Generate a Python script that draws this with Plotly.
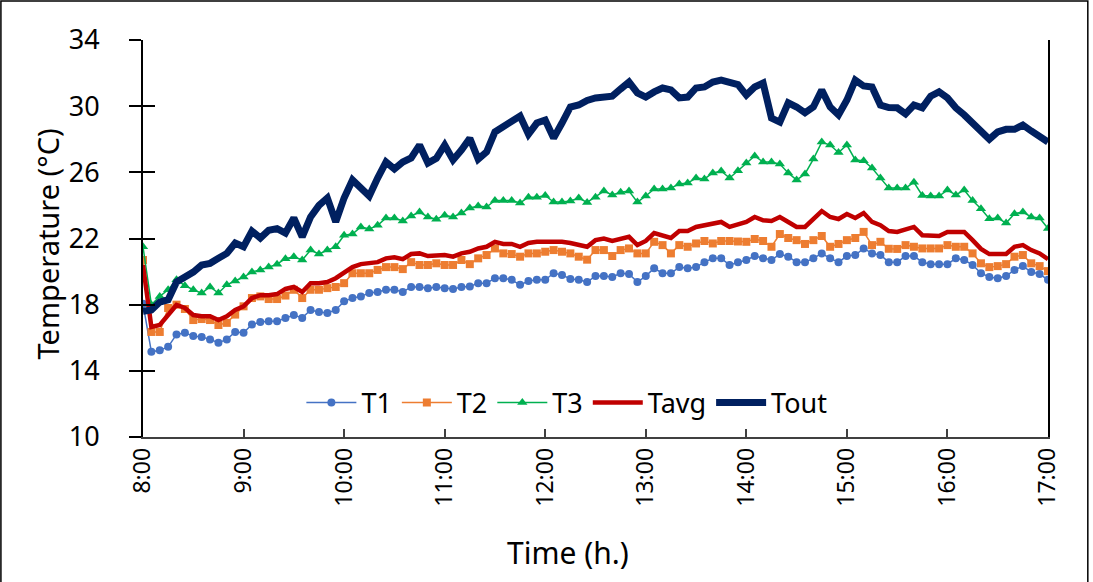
import pandas as pd
import plotly.graph_objects as go

times = pd.date_range("2020-01-01 08:00", "2020-01-01 17:00", freq="5min")

t1 = [18.05, 15.15, 15.25, 15.45, 16.2, 16.3, 16.1, 16.05, 15.9, 15.7, 15.9, 16.35, 16.3, 16.8, 16.95, 17.0, 17.0, 17.2,
      17.37, 17.2, 17.68, 17.56, 17.5, 17.68, 18.2, 18.4, 18.5, 18.7, 18.77, 18.9, 18.9, 18.77, 19.07, 19.07, 19.0, 19.07,
      19.0, 18.95, 19.07, 19.1, 19.3, 19.3, 19.6, 19.6, 19.5, 19.2, 19.43, 19.5, 19.5, 19.9, 19.8, 19.55, 19.5, 19.37,
      19.73, 19.73, 19.67, 19.9, 19.85, 19.37, 19.73, 20.2, 19.9, 19.9, 20.27, 20.2, 20.27, 20.57, 20.8, 20.8, 20.4, 20.57,
      20.7, 20.94, 20.8, 20.7, 21.06, 20.9, 20.57, 20.57, 20.8, 21.1, 20.8, 20.57, 20.94, 21.0, 21.4, 21.1, 21.0, 20.57,
      20.57, 20.94, 20.94, 20.57, 20.45, 20.45, 20.45, 20.8, 20.7, 20.4, 19.9, 19.67, 19.6, 19.73, 20.1, 20.33, 19.97, 19.85, 19.5]

t2 = [20.7, 16.35, 16.35, 17.8, 18.0, 17.74, 17.07, 17.13, 17.07, 16.77, 16.9, 17.4, 17.9, 18.4, 18.5, 18.34, 18.34, 18.55,
      18.9, 18.4, 18.9, 18.9, 19.0, 19.07, 19.3, 19.9, 19.9, 19.9, 20.1, 20.27, 20.27, 20.15, 20.57, 20.4, 20.4, 20.5,
      20.4, 20.4, 20.7, 20.45, 20.8, 21.0, 21.4, 21.1, 21.06, 20.9, 21.1, 21.1, 21.2, 21.3, 21.2, 21.1, 20.9, 20.72,
      21.3, 21.3, 20.94, 21.3, 21.4, 21.1, 21.1, 21.8, 21.6, 21.1, 21.6, 21.5, 21.7, 21.85, 21.7, 21.85, 21.85, 21.82,
      21.8, 21.97, 21.85, 21.5, 22.27, 22.03, 21.9, 21.67, 21.9, 22.15, 21.5, 21.67, 21.9, 22.03, 22.4, 21.6, 21.8, 21.38,
      21.37, 21.6, 21.5, 21.4, 21.4, 21.4, 21.6, 21.5, 21.5, 21.1, 20.5, 20.27, 20.33, 20.45, 20.9, 21.0, 20.5, 20.33, 20.03]

t3 = [21.5, 18.0, 18.5, 18.9, 19.5, 19.15, 18.9, 18.7, 19.07, 18.7, 19.2, 19.43, 19.67, 19.97, 20.1, 20.27, 20.45, 20.78,
      20.9, 20.7, 21.3, 21.06, 21.3, 21.5, 22.2, 22.27, 22.7, 22.57, 22.8, 23.24, 23.24, 23.06, 23.36, 23.6, 23.3, 23.17,
      23.4, 23.3, 23.54, 23.84, 23.97, 23.9, 24.3, 24.3, 24.3, 24.15, 24.5, 24.5, 24.6, 24.2, 24.2, 24.27, 24.45, 24.18,
      24.5, 24.87, 24.63, 24.8, 24.87, 24.2, 24.57, 25.0, 25.0, 25.05, 25.3, 25.35, 25.65, 25.6, 25.96, 26.08, 25.65, 26.1,
      26.56, 26.99, 26.62, 26.62, 26.5, 25.96, 25.54, 25.9, 26.8, 27.83, 27.65, 27.2, 27.65, 26.75, 26.7, 26.26, 25.65, 25.05,
      25.05, 25.05, 25.4, 24.6, 24.57, 24.57, 24.93, 24.63, 24.93, 24.3, 23.8, 23.2, 23.24, 22.93, 23.5, 23.6, 23.3, 23.24, 22.6]

tavg = [20.4, 16.65, 16.77, 17.37, 17.98, 17.8, 17.37, 17.3, 17.3, 17.07, 17.3, 17.68, 17.9, 18.4, 18.57, 18.57, 18.64, 18.95,
        19.07, 18.77, 19.3, 19.3, 19.37, 19.6, 19.97, 20.27, 20.45, 20.5, 20.57, 20.8, 20.87, 20.75, 21.06, 21.1, 20.94, 20.97,
        21.0, 20.9, 21.1, 21.2, 21.4, 21.5, 21.8, 21.67, 21.67, 21.5, 21.73, 21.8, 21.8, 21.8, 21.8, 21.73, 21.6, 21.5,
        21.9, 22.0, 21.85, 22.0, 22.1, 21.6, 21.85, 22.33, 22.2, 22.03, 22.45, 22.45, 22.7, 22.8, 22.93, 23.0, 22.7, 22.87,
        23.0, 23.3, 23.1, 23.06, 23.3, 23.0, 22.7, 22.7, 23.18, 23.66, 23.3, 23.18, 23.48, 23.24, 23.54, 23.0, 22.8, 22.45,
        22.4, 22.57, 22.7, 22.2, 22.15, 22.15, 22.4, 22.4, 22.4, 21.9, 21.37, 21.06, 21.06, 21.06, 21.5, 21.6, 21.3, 21.1, 20.75]

tout = [17.6, 17.68, 18.16, 18.3, 19.37, 19.67, 19.97, 20.4, 20.5, 20.8, 21.1, 21.73, 21.5, 22.45, 22.03, 22.5, 22.6, 22.33,
        23.24, 22.1, 23.3, 24.0, 24.45, 23.0, 24.45, 25.54, 25.1, 24.57, 25.65, 26.62, 26.2, 26.62, 26.87, 27.65, 26.56, 26.85,
        27.65, 26.75, 27.35, 28.05, 26.8, 27.23, 28.44, 28.74, 29.04, 29.4, 28.3, 28.98, 29.16, 28.07, 28.98, 29.95, 30.07, 30.35,
        30.5, 30.55, 30.6, 31.04, 31.46, 30.8, 30.55, 30.86, 31.1, 30.98, 30.5, 30.55, 31.1, 31.16, 31.46, 31.58, 31.4, 31.3,
        30.67, 31.16, 31.4, 29.28, 29.04, 30.2, 29.95, 29.6, 29.95, 30.98, 29.95, 29.47, 30.37, 31.58, 31.22, 31.16, 30.07, 29.92,
        29.9, 29.53, 30.07, 29.9, 30.6, 30.86, 30.5, 29.9, 29.47, 28.98, 28.5, 28.0, 28.44, 28.6, 28.6, 28.86, 28.5, 28.2, 27.83]

y_ticks = [10, 14, 18, 22, 26, 30, 34]
x_ticks = pd.date_range("2020-01-01 08:00", "2020-01-01 17:00", freq="1h")
x_ticklabels = [f"{t.hour}:00" for t in x_ticks]

FONT = "Noto Sans"

fig = go.Figure()
fig.add_trace(go.Scatter(x=times, y=t1, name="T1", mode="lines+markers",
                         line=dict(color="#4472C4", width=1.5),
                         marker=dict(symbol="circle", size=8, color="#4472C4")))
fig.add_trace(go.Scatter(x=times, y=t2, name="T2", mode="lines+markers",
                         line=dict(color="#ED7D31", width=1.5),
                         marker=dict(symbol="square", size=8, color="#ED7D31")))
fig.add_trace(go.Scatter(x=times, y=t3, name="T3", mode="lines+markers",
                         line=dict(color="#00B050", width=1.5),
                         marker=dict(symbol="triangle-up", size=9, color="#00B050")))
fig.add_trace(go.Scatter(x=times, y=tavg, name="Tavg", mode="lines",
                         line=dict(color="#C00000", width=4.5)))
fig.add_trace(go.Scatter(x=times, y=tout, name="Tout", mode="lines",
                         line=dict(color="#002060", width=7)))

fig.update_layout(
    width=1093, height=582,
    margin=dict(l=143, r=45, t=40, b=145),
    paper_bgcolor="white", plot_bgcolor="white",
    font=dict(family=FONT, color="#000000"),
    showlegend=True,
    legend=dict(orientation="h", x=0.175, y=0.086, xanchor="left", yanchor="middle",
                font=dict(size=27, family=FONT, color="#000000"),
                bgcolor="rgba(0,0,0,0)", itemwidth=50, tracegroupgap=0),
    xaxis=dict(
        range=[times[0], times[-1]], tickvals=x_ticks, ticktext=x_ticklabels,
        tickangle=-90, tickfont=dict(size=23, family=FONT, color="#000000"),
        showgrid=False, zeroline=False, showline=True, linecolor="#404040", linewidth=1.5,
        ticks="inside", ticklen=8, tickcolor="#404040", tickwidth=1.5,
    ),
    yaxis=dict(
        range=[10, 34], tickvals=y_ticks, tickfont=dict(size=27, family=FONT, color="#000000"),
        showgrid=False, zeroline=False, showline=True, linecolor="#000000", linewidth=2,
        mirror=True, ticks="outside", ticklen=12, tickwidth=2, tickcolor="#000000",
        ticklabelstandoff=24,
    ),
    yaxis2=dict(
        range=[10, 34], tickvals=y_ticks, overlaying="y", side="left", showticklabels=False,
        showgrid=False, zeroline=False, showline=False,
        ticks="inside", ticklen=12, tickwidth=2, tickcolor="#000000",
    ),
)
# helper trace that only activates the inner tick marks of yaxis2
fig.add_trace(go.Scatter(x=[times[0]], y=[None], yaxis="y2", showlegend=False, hoverinfo="skip"))

fig.add_annotation(text="Temperature (°C)", xref="paper", yref="paper", x=-0.106, y=0.485,
                   textangle=-90, showarrow=False, font=dict(size=29, family=FONT, color="#000000"),
                   xanchor="center", yanchor="middle")
fig.add_annotation(text="Time (h.)", xref="paper", yref="paper", x=0.47, y=-0.292,
                   showarrow=False, font=dict(size=30, family=FONT, color="#000000"),
                   xanchor="center", yanchor="middle")
fig.add_shape(type="rect", xref="paper", yref="paper", x0=-0.157, x1=1.044, y0=-0.5, y1=1.098,
              line=dict(color="#000000", width=1.5), fillcolor="rgba(0,0,0,0)", layer="below")

fig.write_html("out.html")
